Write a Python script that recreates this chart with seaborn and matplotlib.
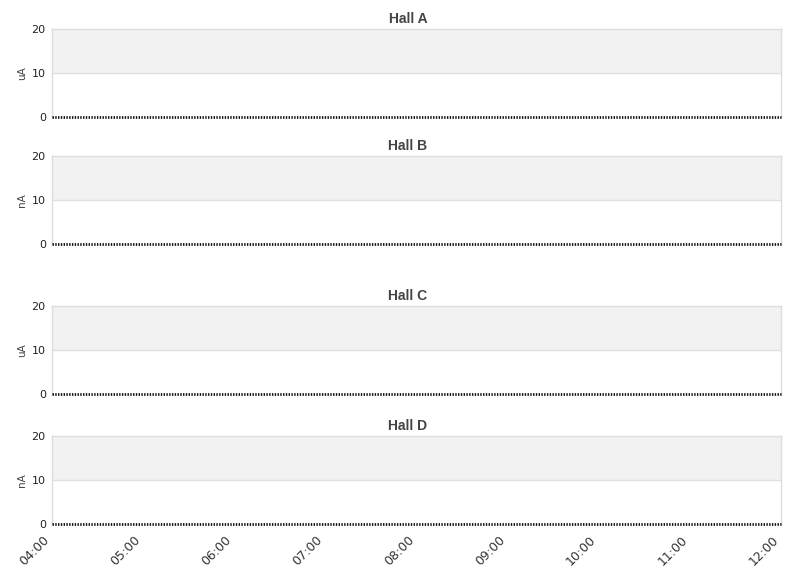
import matplotlib
matplotlib.use("Agg")
import matplotlib.pyplot as plt
import matplotlib.dates as mdates
import seaborn as sns
import pandas as pd

# ── Data ───────────────────────────────────────────────────────
halls = ["Hall A", "Hall B", "Hall C", "Hall D"]
units = ["uA", "nA", "uA", "nA"]
times = pd.date_range("2024-01-01 04:00", "2024-01-01 12:00", freq="15min")
current = [0.0] * len(times)  # all halls read zero over the window
y_ticks = [0, 10, 20]

# panel boxes in pixels (top, bottom) for an 811x578 canvas
W, H = 811, 578
left_px, right_px = 52, 781
panels_px = [(29, 117), (156, 244), (306, 394), (436, 524)]
title_x_px = 408

sns.set_theme(style="white")
plt.rcParams["font.family"] = ["DejaVu Sans"]

fig = plt.figure(figsize=(W / 100, H / 100), dpi=100)

for i, (hall, unit) in enumerate(zip(halls, units)):
    top, bot = panels_px[i]
    ax = fig.add_axes([left_px / W, 1 - bot / H, (right_px - left_px) / W, (bot - top) / H])
    df = pd.DataFrame({"time": times, "value": current})

    ax.axhspan(10, 20, color="#f2f2f2", zorder=0, lw=0)
    ax.axhline(10, color="#e0e0e0", lw=1, zorder=1)
    sns.lineplot(data=df, x="time", y="value", ax=ax, color="#111111",
                 lw=2, linestyle=(0, (0.5, 0.5)), zorder=3, clip_on=False)

    ax.set_xlim(times[0], times[-1])
    ax.set_ylim(0, 20)
    ax.set_yticks(y_ticks)
    ax.set_ylabel(unit, fontsize=7.5, color="#444444", labelpad=3)
    ax.set_xlabel("")
    ax.set_title(hall, fontsize=10, fontweight="bold", color="#444444",
                 family=["Liberation Sans", "DejaVu Sans"], pad=4,
                 x=(title_x_px - left_px) / (right_px - left_px))
    ax.tick_params(axis="y", labelsize=8, colors="#222222", length=0, pad=4.5)

    for side in ["top", "left", "right"]:
        ax.spines[side].set_color("#dddddd")
        ax.spines[side].set_linewidth(1)
    ax.spines["bottom"].set_visible(False)

    ax.xaxis.set_major_locator(mdates.HourLocator())
    ax.xaxis.set_major_formatter(mdates.DateFormatter("%H:%M"))
    if i == len(halls) - 1:
        ax.tick_params(axis="x", labelsize=9, colors="#333333", length=0, pad=7)
        plt.setp(ax.get_xticklabels(), rotation=45, ha="right")
    else:
        ax.tick_params(axis="x", labelbottom=False, length=0)

fig.savefig("out.png", dpi=100)
